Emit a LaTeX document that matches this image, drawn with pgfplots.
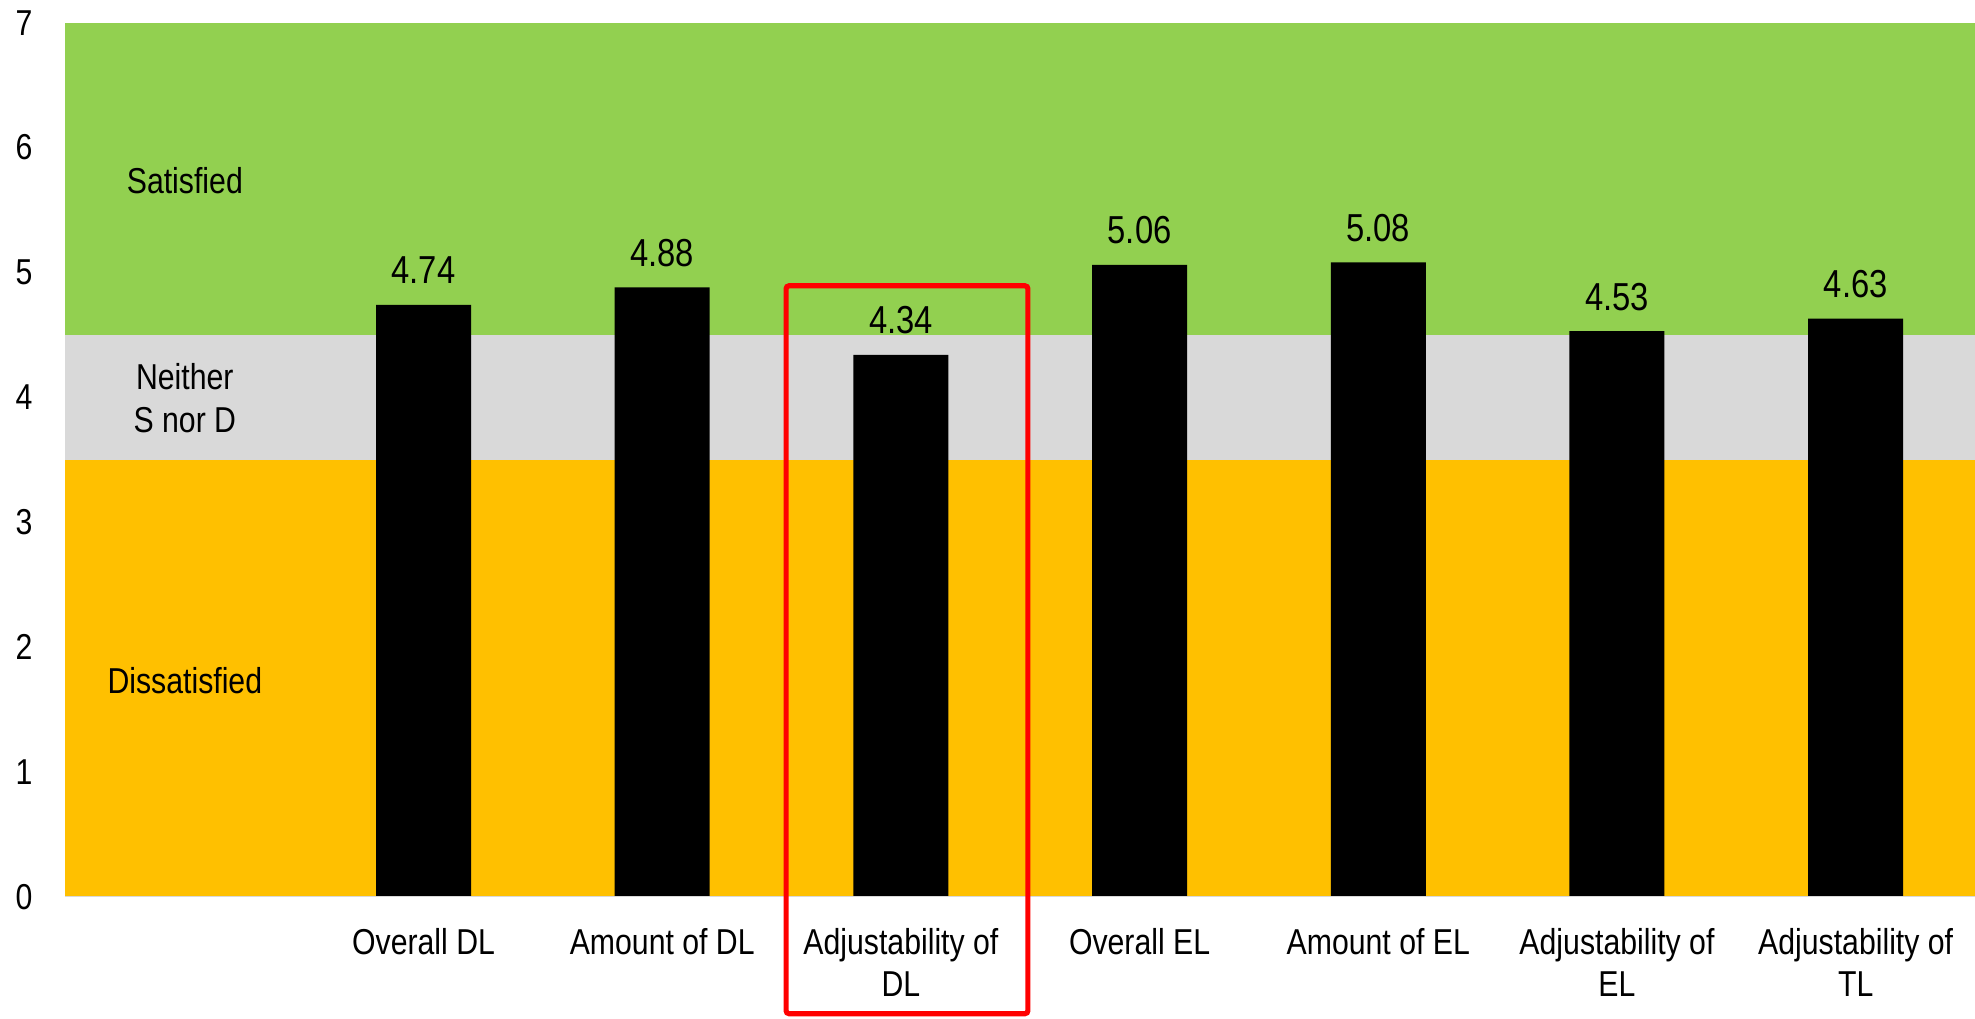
\documentclass[border=0pt]{standalone}
\usepackage{pgfplots}
\pgfplotsset{compat=1.18}
\usepackage{fontspec}
\setmainfont{Liberation Sans}[FakeStretch=0.84]
\definecolor{sgreen}{HTML}{92D050}
\definecolor{sgray}{HTML}{D9D9D9}
\definecolor{sorange}{HTML}{FFC000}
\begin{document}
\begin{tikzpicture}
\begin{axis}[name=ax,
  width=954.75pt, height=437pt, scale only axis,
  xmin=-0.5, xmax=7.5, ymin=0, ymax=7,
  axis line style={draw=none},
  clip=false,
  major tick length=0pt,
  xtick={1,2,3,4,5,6,7},
  xticklabels={Overall DL, Amount of DL, Adjustability of\\DL, Overall EL, Amount of EL, Adjustability of\\EL, Adjustability of\\TL},
  xticklabel style={align=center, anchor=north, inner sep=0pt, yshift=-15.5pt, font=\fontsize{18}{21.3}\selectfont},
  ytick={0,1,2,3,4,5,6,7},
  yticklabel style={anchor=center, inner sep=0pt, xshift=-20.75pt, font=\fontsize{18}{20}\selectfont},
  /pgf/number format/assume math mode=true,
]
\addplot[fill=sorange, draw=none, mark=none] coordinates {(-0.5,0) (7.5,0) (7.5,3.5) (-0.5,3.5)} -- cycle;
\addplot[fill=sgray, draw=none, mark=none] coordinates {(-0.5,3.5) (7.5,3.5) (7.5,4.5) (-0.5,4.5)} -- cycle;
\addplot[fill=sgreen, draw=none, mark=none] coordinates {(-0.5,4.5) (7.5,4.5) (7.5,7) (-0.5,7)} -- cycle;
\addplot[ybar, bar width=47.5pt, fill=black, draw=none, mark=none,
  point meta=explicit symbolic, nodes near coords,
  every node near coord/.append style={anchor=base, inner sep=0pt, yshift=10.5pt, font=\fontsize{19.5}{22}\selectfont, text=black}]
  coordinates {(1,4.74)[4.74] (2,4.88)[4.88] (3,4.34)[4.34] (4,5.06)[5.06] (5,5.08)[5.08] (6,4.53)[4.53] (7,4.63)[4.63]};
\draw[sgray, line width=0.75pt] (axis cs:-0.5,0) -- (axis cs:7.5,0);
\node[anchor=base, inner sep=0pt, font=\fontsize{18}{20}\selectfont] at (axis cs:0,5.636) {Satisfied};
\node[anchor=base, inner sep=0pt, font=\fontsize{18}{20}\selectfont] at (axis cs:0,4.06) {Neither};
\node[anchor=base, inner sep=0pt, font=\fontsize{18}{20}\selectfont] at (axis cs:0,3.72) {S nor D};
\node[anchor=base, inner sep=0pt, font=\fontsize{18}{20}\selectfont] at (axis cs:0,1.63) {Dissatisfied};
\draw[red, line width=2.6pt, rounded corners=1.5pt] (axis cs:2.519,-0.937) rectangle (axis cs:3.532,4.893);
\end{axis}
\pgfresetboundingbox
\path[use as bounding box] ([shift={(-32.75pt,-61pt)}]ax.south west) rectangle ([shift={(0pt,11.35pt)}]ax.north east);
\end{tikzpicture}
\end{document}
